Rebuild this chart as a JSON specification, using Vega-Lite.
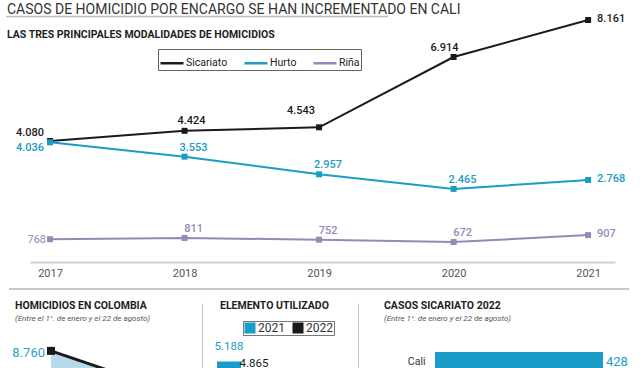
{
  "$schema": "https://vega.github.io/schema/vega-lite/v6.json",
  "padding": {"left": 5, "top": 0, "right": 0, "bottom": 0},
  "background": "white",
  "config": {
    "view": {"stroke": null},
    "font": "Roboto",
    "locale": {"number": {"decimal": ",", "thousands": ".", "grouping": [3], "currency": ["$", ""]}}
  },
  "datasets": {
    "modalidades": [
      {"anio": 2017, "modalidad": "Sicariato", "casos": 4080},
      {"anio": 2018, "modalidad": "Sicariato", "casos": 4424},
      {"anio": 2019, "modalidad": "Sicariato", "casos": 4543},
      {"anio": 2020, "modalidad": "Sicariato", "casos": 6914},
      {"anio": 2021, "modalidad": "Sicariato", "casos": 8161},
      {"anio": 2017, "modalidad": "Hurto", "casos": 4036},
      {"anio": 2018, "modalidad": "Hurto", "casos": 3553},
      {"anio": 2019, "modalidad": "Hurto", "casos": 2957},
      {"anio": 2020, "modalidad": "Hurto", "casos": 2465},
      {"anio": 2021, "modalidad": "Hurto", "casos": 2768},
      {"anio": 2017, "modalidad": "Riña", "casos": 768},
      {"anio": 2018, "modalidad": "Riña", "casos": 811},
      {"anio": 2019, "modalidad": "Riña", "casos": 752},
      {"anio": 2020, "modalidad": "Riña", "casos": 672},
      {"anio": 2021, "modalidad": "Riña", "casos": 907}
    ],
    "colombia": [
      {"anio": "2021", "homicidios": 8760},
      {"anio": "2022", "homicidios": 8411}
    ],
    "elemento": [
      {"elemento": "Arma de fuego", "anio": "2021", "casos": 5188},
      {"elemento": "Arma de fuego", "anio": "2022", "casos": 4865}
    ],
    "ciudades": [
      {"ciudad": "Cali", "casos": 428}
    ]
  },
  "bounds": "flush",
  "spacing": 41,
  "resolve": {"scale": {"color": "independent"}, "legend": {"color": "independent"}},
  "vconcat": [
    {
      "width": 585,
      "height": 262,
      "title": {
        "text": "CASOS DE HOMICIDIO POR ENCARGO SE HAN INCREMENTADO EN CALI",
        "subtitle": "LAS TRES PRINCIPALES MODALIDADES DE HOMICIDIOS",
        "anchor": "start",
        "frame": "group",
        "dx": -23,
        "offset": -40,
        "font": "Roboto",
        "fontSize": 14,
        "fontWeight": "normal",
        "color": "#333333",
        "subtitleFont": "Roboto",
        "subtitleFontSize": 10.5,
        "subtitleFontWeight": "bold",
        "subtitleColor": "#1e1e1e",
        "subtitlePadding": 13
      },
      "data": {"name": "modalidades"},
      "layer": [
        {
          "mark": {"type": "line", "strokeWidth": 2},
          "encoding": {
            "x": {
              "field": "anio", "type": "quantitative",
              "scale": {"domain": [2016.851, 2021.2], "nice": false, "zero": false},
              "axis": {
                "values": [2017, 2018, 2019, 2020, 2021], "format": "d", "title": null,
                "grid": false, "ticks": false, "labelPadding": 5,
                "labelFont": "Roboto", "labelFontSize": 11, "labelColor": "#555555",
                "domainColor": "#cfcfcf", "domainWidth": 2
              }
            },
            "y": {"field": "casos", "type": "quantitative", "scale": {"domain": [0, 8836], "nice": false}, "axis": null},
            "color": {
              "field": "modalidad", "type": "nominal",
              "scale": {"domain": ["Sicariato", "Hurto", "Riña"], "range": ["#1a1a1a", "#1b9cc3", "#8e8cb8"]},
              "legend": {
                "orient": "none", "legendX": 128, "legendY": 49, "direction": "horizontal",
                "title": null, "symbolType": "stroke", "symbolSize": 529, "symbolStrokeWidth": 2.5,
                "labelFont": "Roboto", "labelFontSize": 10.5, "labelColor": "#222222", "labelOffset": 1,
                "strokeColor": "#666666", "padding": 1, "columnPadding": 11
              }
            }
          }
        },
        {
          "mark": {"type": "point", "shape": "square", "filled": true, "size": 36, "opacity": 1},
          "encoding": {
            "x": {"field": "anio", "type": "quantitative"},
            "y": {"field": "casos", "type": "quantitative"},
            "color": {"field": "modalidad", "type": "nominal", "legend": null}
          }
        },
        {
          "transform": [{"filter": "datum.anio == 2017 && datum.modalidad == 'Sicariato'"}],
          "mark": {"type": "text", "align": "right", "baseline": "middle", "dx": -6, "dy": -8, "font": "Roboto", "fontSize": 11, "fontWeight": 500},
          "encoding": {
            "x": {"field": "anio", "type": "quantitative"},
            "y": {"field": "casos", "type": "quantitative"},
            "text": {"field": "casos", "type": "quantitative", "format": ",d"},
            "color": {"field": "modalidad", "type": "nominal", "legend": null}
          }
        },
        {
          "transform": [{"filter": "datum.anio == 2017 && datum.modalidad == 'Hurto'"}],
          "mark": {"type": "text", "align": "right", "baseline": "middle", "dx": -6, "dy": 6, "font": "Roboto", "fontSize": 11, "fontWeight": 500},
          "encoding": {
            "x": {"field": "anio", "type": "quantitative"},
            "y": {"field": "casos", "type": "quantitative"},
            "text": {"field": "casos", "type": "quantitative", "format": ",d"},
            "color": {"field": "modalidad", "type": "nominal", "legend": null}
          }
        },
        {
          "transform": [{"filter": "datum.anio == 2017 && datum.modalidad == 'Riña'"}],
          "mark": {"type": "text", "align": "right", "baseline": "middle", "dx": -4, "dy": 1, "font": "Roboto", "fontSize": 11},
          "encoding": {
            "x": {"field": "anio", "type": "quantitative"},
            "y": {"field": "casos", "type": "quantitative"},
            "text": {"field": "casos", "type": "quantitative", "format": ",d"},
            "color": {"field": "modalidad", "type": "nominal", "legend": null}
          }
        },
        {
          "transform": [{"filter": "datum.anio > 2017 && datum.anio < 2021 && datum.modalidad != 'Sicariato'"}],
          "mark": {"type": "text", "align": "center", "baseline": "alphabetic", "dx": 9, "dy": -6, "font": "Roboto", "fontSize": 11, "fontWeight": 500},
          "encoding": {
            "x": {"field": "anio", "type": "quantitative"},
            "y": {"field": "casos", "type": "quantitative"},
            "text": {"field": "casos", "type": "quantitative", "format": ",d"},
            "color": {"field": "modalidad", "type": "nominal", "legend": null}
          }
        },
        {
          "transform": [{"filter": "datum.modalidad == 'Sicariato' && datum.anio == 2018"}],
          "mark": {"type": "text", "align": "center", "baseline": "alphabetic", "dx": 7, "dy": -7, "font": "Roboto", "fontSize": 11, "fontWeight": 500},
          "encoding": {
            "x": {"field": "anio", "type": "quantitative"},
            "y": {"field": "casos", "type": "quantitative"},
            "text": {"field": "casos", "type": "quantitative", "format": ",d"},
            "color": {"field": "modalidad", "type": "nominal", "legend": null}
          }
        },
        {
          "transform": [{"filter": "datum.modalidad == 'Sicariato' && datum.anio == 2019"}],
          "mark": {"type": "text", "align": "center", "baseline": "alphabetic", "dx": -18, "dy": -13, "font": "Roboto", "fontSize": 11, "fontWeight": 500},
          "encoding": {
            "x": {"field": "anio", "type": "quantitative"},
            "y": {"field": "casos", "type": "quantitative"},
            "text": {"field": "casos", "type": "quantitative", "format": ",d"},
            "color": {"field": "modalidad", "type": "nominal", "legend": null}
          }
        },
        {
          "transform": [{"filter": "datum.modalidad == 'Sicariato' && datum.anio == 2020"}],
          "mark": {"type": "text", "align": "center", "baseline": "alphabetic", "dx": -9, "dy": -6, "font": "Roboto", "fontSize": 11, "fontWeight": 500},
          "encoding": {
            "x": {"field": "anio", "type": "quantitative"},
            "y": {"field": "casos", "type": "quantitative"},
            "text": {"field": "casos", "type": "quantitative", "format": ",d"},
            "color": {"field": "modalidad", "type": "nominal", "legend": null}
          }
        },
        {
          "transform": [{"filter": "datum.anio == 2021"}],
          "mark": {"type": "text", "align": "left", "baseline": "middle", "dx": 9, "dy": -1, "font": "Roboto", "fontSize": 11, "fontWeight": 500},
          "encoding": {
            "x": {"field": "anio", "type": "quantitative"},
            "y": {"field": "casos", "type": "quantitative"},
            "text": {"field": "casos", "type": "quantitative", "format": ",d"},
            "color": {"field": "modalidad", "type": "nominal", "legend": null}
          }
        },
        {
          "data": {"values": [{"separador": 1}]},
          "mark": {"type": "rule", "color": "#c8c8c8", "strokeWidth": 2},
          "encoding": {
            "x": {"datum": 2016.695, "type": "quantitative"},
            "x2": {"datum": 2021.305},
            "y": {"datum": -910.6, "type": "quantitative"}
          }
        },
        {
          "data": {"values": [{"separador": 2}]},
          "mark": {"type": "rule", "color": "#bdbdbd", "strokeWidth": 1.5},
          "encoding": {
            "x": {"datum": 2016.673, "type": "quantitative"},
            "x2": {"datum": 2019.513},
            "y": {"datum": 8280, "type": "quantitative"}
          }
        }
      ]
    },
    {
      "bounds": "flush",
      "spacing": 0,
      "resolve": {"scale": {"color": "independent"}, "legend": {"color": "independent"}},
      "hconcat": [
        {
          "width": 187,
          "height": 155,
          "title": {
            "text": "HOMICIDIOS EN COLOMBIA",
            "subtitle": "(Entre el 1°. de enero y el 22 de agosto)",
            "anchor": "start", "frame": "group", "dx": -15, "offset": -20,
            "font": "Roboto", "fontSize": 10.5, "fontWeight": "bold", "color": "#1e1e1e",
            "subtitleFont": "Roboto",
            "subtitleFontSize": 8, "subtitleFontStyle": "italic", "subtitleColor": "#555555", "subtitlePadding": 4
          },
          "data": {"name": "colombia"},
          "encoding": {
            "x": {"field": "anio", "type": "ordinal", "scale": {"type": "point", "padding": 0.1448}, "axis": null},
            "y": {
              "field": "homicidios", "type": "quantitative",
              "scale": {"domain": [8000, 9100], "nice": false, "zero": false},
              "axis": {"orient": "right", "offset": -15, "labels": false, "ticks": false, "grid": false, "title": null, "domainColor": "#c4c4c4", "domainWidth": 1}
            }
          },
          "layer": [
            {"mark": {"type": "area", "color": "#b5dbeb"}},
            {"mark": {"type": "line", "color": "#1a1a1a", "strokeWidth": 3}},
            {"mark": {"type": "point", "shape": "square", "filled": true, "color": "#1a1a1a", "size": 64, "opacity": 1}},
            {
              "mark": {"type": "text", "align": "right", "baseline": "middle", "dx": -6, "dy": 2, "font": "Roboto", "fontSize": 13, "color": "#2a9fc9"},
              "encoding": {"text": {"field": "homicidios", "type": "quantitative", "format": ",d"}}
            }
          ]
        },
        {
          "width": 218,
          "height": 332,
          "title": {
            "text": "ELEMENTO UTILIZADO",
            "anchor": "start", "frame": "group", "dx": 3, "offset": -8,
            "font": "Roboto", "fontSize": 10.5, "fontWeight": "bold", "color": "#1e1e1e"
          },
          "data": {"name": "elemento"},
          "encoding": {
            "x": {"field": "anio", "type": "nominal", "scale": {"paddingInner": 0.04, "paddingOuter": 0, "range": [0, 49]}, "axis": null},
            "y": {
              "field": "casos", "type": "quantitative",
              "scale": {"domain": [0, 6300], "nice": false},
              "axis": {"orient": "right", "offset": -77, "labels": false, "ticks": false, "grid": false, "title": null, "domainColor": "#c4c4c4", "domainWidth": 1}
            }
          },
          "layer": [
            {
              "mark": {"type": "bar"},
              "encoding": {
                "color": {
                  "field": "anio", "type": "nominal",
                  "scale": {"domain": ["2021", "2022"], "range": ["#1a9bc9", "#1a1a1a"]},
                  "legend": {
                    "orient": "none", "legendX": 26, "legendY": 18, "direction": "horizontal", "title": null,
                    "symbolType": "square", "symbolSize": 121, "symbolStrokeWidth": 0,
                    "labelFont": "Roboto", "labelFontSize": 12, "labelColor": "#333333", "labelOffset": 2,
                    "strokeColor": "#777777", "padding": 1, "columnPadding": 7
                  }
                }
              }
            },
            {
              "mark": {"type": "text", "baseline": "alphabetic", "dy": -12, "font": "Roboto", "fontSize": 11.5},
              "encoding": {
                "text": {"field": "casos", "type": "quantitative", "format": ",d"},
                "color": {"field": "anio", "type": "nominal", "legend": null}
              }
            }
          ]
        },
        {
          "width": 168,
          "height": 100,
          "title": {
            "text": "CASOS SICARIATO 2022",
            "subtitle": "(Entre 1°. de enero y el 22 de agosto)",
            "anchor": "start", "frame": "group", "dx": -51, "offset": -20,
            "font": "Roboto", "fontSize": 10.5, "fontWeight": "bold", "color": "#1e1e1e",
            "subtitleFont": "Roboto",
            "subtitleFontSize": 8, "subtitleFontStyle": "italic", "subtitleColor": "#555555", "subtitlePadding": 4
          },
          "data": {"name": "ciudades"},
          "encoding": {
            "y": {
              "field": "ciudad", "type": "nominal",
              "scale": {"paddingInner": 0, "paddingOuter": 0, "range": [49, 69]},
              "axis": {"labelFont": "Roboto", "labelFontSize": 10.5, "labelColor": "#333333", "labelPadding": 10, "ticks": false, "domain": false, "grid": false, "title": null}
            },
            "x": {"field": "casos", "type": "quantitative", "scale": {"domain": [0, 428], "nice": false}, "axis": null}
          },
          "layer": [
            {"mark": {"type": "bar", "color": "#1a9bc9"}},
            {
              "mark": {"type": "text", "align": "left", "baseline": "middle", "dx": 3, "font": "Roboto", "fontSize": 13, "color": "#1a9bc9"},
              "encoding": {"text": {"field": "casos", "type": "quantitative"}}
            }
          ]
        }
      ]
    }
  ]
}
